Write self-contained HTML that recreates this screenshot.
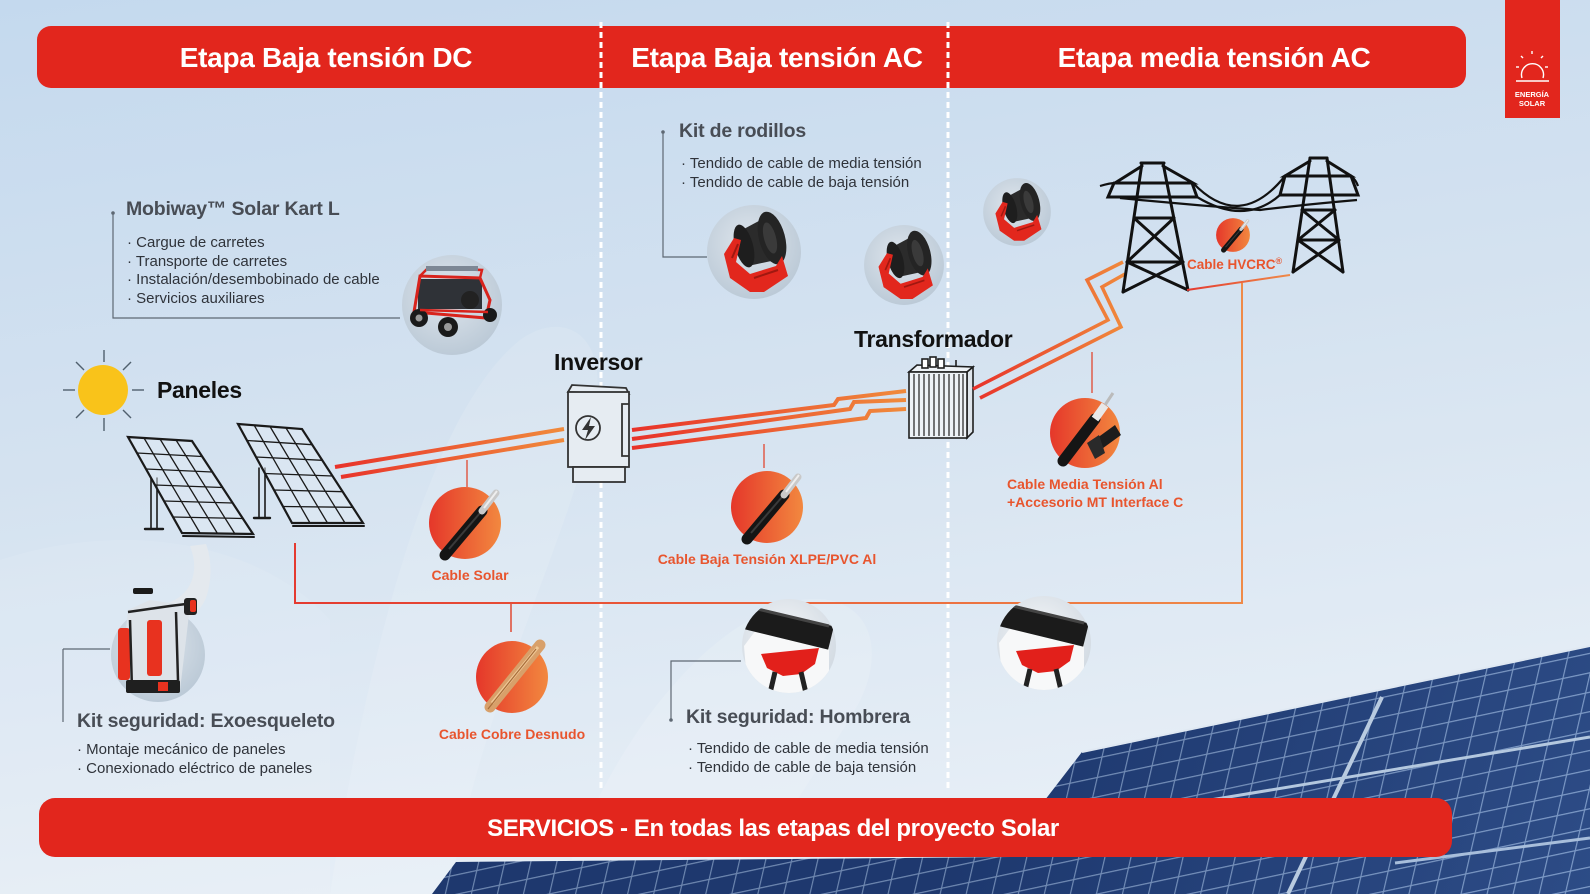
<!DOCTYPE html>
<html><head><meta charset="utf-8">
<style>
html,body{margin:0;padding:0;width:1590px;height:894px;overflow:hidden;background:#d5e3f1;}
svg{display:block;}
text{font-family:"Liberation Sans",sans-serif;}
.hd{font-weight:bold;font-size:28px;fill:#fff;text-anchor:middle;letter-spacing:-0.3px;}
.tt{font-weight:bold;font-size:19.5px;fill:#484d55;letter-spacing:-0.2px;}
.bl{font-size:15px;fill:#2f333a;}
.big{font-weight:bold;font-size:23px;fill:#111;letter-spacing:-0.3px;}
.lb{font-weight:bold;font-size:14px;fill:#e8552e;}
</style></head><body>
<svg width="1590" height="894" viewBox="0 0 1590 894" xmlns="http://www.w3.org/2000/svg">
<defs>
 <linearGradient id="bg" x1="0" y1="0" x2="0.25" y2="1">
  <stop offset="0" stop-color="#c4d9ee"/>
  <stop offset="0.5" stop-color="#d4e2f0"/>
  <stop offset="1" stop-color="#e6eef6"/>
 </linearGradient>
 <linearGradient id="gA" gradientUnits="userSpaceOnUse" x1="335" y1="0" x2="563" y2="0">
  <stop offset="0" stop-color="#e8322a"/><stop offset="1" stop-color="#f08a3c"/></linearGradient>
 <linearGradient id="gB" gradientUnits="userSpaceOnUse" x1="632" y1="0" x2="905" y2="0">
  <stop offset="0" stop-color="#e8322a"/><stop offset="1" stop-color="#f08a3c"/></linearGradient>
 <linearGradient id="gC" gradientUnits="userSpaceOnUse" x1="973" y1="0" x2="1125" y2="0">
  <stop offset="0" stop-color="#e8322a"/><stop offset="1" stop-color="#f08a3c"/></linearGradient>
 <linearGradient id="gD" gradientUnits="userSpaceOnUse" x1="295" y1="0" x2="1242" y2="0">
  <stop offset="0" stop-color="#e43a30"/><stop offset="1" stop-color="#ef8a48"/></linearGradient>
 <linearGradient id="gE" gradientUnits="userSpaceOnUse" x1="1187" y1="0" x2="1290" y2="0">
  <stop offset="0" stop-color="#e43a30"/><stop offset="1" stop-color="#ef8a48"/></linearGradient>
 <linearGradient id="orb" x1="0" y1="0" x2="1" y2="0">
  <stop offset="0" stop-color="#e5372a"/><stop offset="1" stop-color="#f2883f"/></linearGradient>
 <linearGradient id="pshade" gradientUnits="userSpaceOnUse" x1="1000" y1="700" x2="1590" y2="894">
  <stop offset="0" stop-color="#0d2350" stop-opacity="0.25"/><stop offset="1" stop-color="#4a72b0" stop-opacity="0.25"/></linearGradient>
 <radialGradient id="gray" cx="0.45" cy="0.4" r="0.6">
  <stop offset="0" stop-color="#dfe6ed"/><stop offset="1" stop-color="#bccad7"/></radialGradient>
 <radialGradient id="wgray" cx="0.45" cy="0.4" r="0.6">
  <stop offset="0" stop-color="#f4f6f8"/><stop offset="1" stop-color="#d3dbe3"/></radialGradient>
 <pattern id="cells" width="28" height="19" patternUnits="userSpaceOnUse" patternTransform="rotate(-12) skewX(-25)">
  <rect width="28" height="19" fill="#233f78"/>
  <path d="M0 0.6H28M0.6 0V19" stroke="#8ea8cf" stroke-width="1.4"/>
 </pattern>
 <clipPath id="c47"><circle cx="0" cy="0" r="47"/></clipPath>

 <g id="orbCable">
  <circle r="36" fill="url(#orb)"/>
  <line x1="-20" y1="32" x2="17" y2="-12" stroke="#151515" stroke-width="11" stroke-linecap="round"/>
  <line x1="-16" y1="26" x2="15" y2="-10" stroke="#3a3a3a" stroke-width="2"/>
  <line x1="17" y1="-12" x2="31" y2="-30" stroke="#c9c9c9" stroke-width="7" stroke-linecap="round"/>
  <line x1="19" y1="-15" x2="32" y2="-32" stroke="#eee" stroke-width="2"/>
 </g>
 <g id="roller">
  <circle r="47" fill="url(#gray)"/>
  <g clip-path="url(#c47)">
   <path d="M-12,-22 L14,-36 L22,8 L-6,14 Z" fill="#2b2b2b"/>
   <ellipse cx="-10" cy="-6" rx="9" ry="22" transform="rotate(-15 -10 -6)" fill="#1e1e1e"/>
   <ellipse cx="18" cy="-14" rx="13" ry="27" transform="rotate(-15 18 -14)" fill="#242424"/>
   <ellipse cx="16" cy="-14" rx="6" ry="16" transform="rotate(-15 16 -14)" fill="#3a3a3a"/>
   <path d="M-30,2 L-20,-14 L-13,-12 L-18,10 L-4,22 L22,14 L28,4 L34,24 L10,40 L-4,40 L-24,26 Z" fill="#e2271d"/>
   <path d="M-22,6 L-16,-8 M0,26 L24,18" stroke="#a01810" stroke-width="2"/>
  </g>
 </g>
 <g id="homb">
  <circle r="47" fill="url(#wgray)"/>
  <g clip-path="url(#c47)">
   <path d="M-30,-20 C-10,-30 20,-30 40,-10 L40,60 L-40,60 L-45,0 Z" fill="#f7f8f9"/>
   <line x1="-48" y1="-30" x2="42" y2="-8" stroke="#1b1b1b" stroke-width="24"/>
   <line x1="-44" y1="-40" x2="40" y2="-20" stroke="#444" stroke-width="3"/>
   <path d="M-28,8 L30,2 L26,18 L12,28 L-6,30 L-22,22 Z" fill="#e2201b"/>
   <line x1="-14" y1="26" x2="-22" y2="60" stroke="#222" stroke-width="5"/>
   <line x1="12" y1="26" x2="20" y2="60" stroke="#222" stroke-width="5"/>
  </g>
 </g>
</defs>

<!-- background -->
<rect width="1590" height="894" fill="url(#bg)"/>
<path d="M330,894 C360,700 420,420 520,340 C560,310 610,330 595,410 C575,530 480,700 450,894 Z" fill="#ffffff" opacity="0.12"/>
<path d="M560,894 C600,760 700,620 800,600 C870,590 890,650 855,710 C820,770 770,830 750,894 Z" fill="#ffffff" opacity="0.14"/>
<path d="M0,560 C120,520 260,540 330,620 L330,894 L0,894 Z" fill="#ffffff" opacity="0.08"/>

<!-- solar panel photo bottom right -->
<polygon points="1082,752 1590,646 1590,894 432,894 456,862 1010,857 1045,800" fill="url(#cells)"/>
<polygon points="1082,752 1590,646 1590,894 432,894 456,862 1010,857 1045,800" fill="url(#pshade)"/>
<path d="M1382,697 L1288,894" stroke="#b9cbe0" stroke-width="4"/>
<path d="M1150,810 L1590,737" stroke="#b4c8df" stroke-width="3"/>
<path d="M1395,863 L1590,838" stroke="#a8bedb" stroke-width="3"/>
<path d="M1082,752 L1590,646" stroke="#dfe8f2" stroke-width="2"/>

<!-- header -->
<rect x="37" y="26" width="1429" height="62" rx="14" fill="#e2261d"/>
<text class="hd" x="326" y="67">Etapa Baja tensión DC</text>
<text class="hd" x="777" y="67">Etapa Baja tensión AC</text>
<text class="hd" x="1214" y="67">Etapa media tensión AC</text>

<!-- logo -->
<rect x="1505" y="0" width="55" height="118" fill="#e2261d"/>
<g stroke="#fff" stroke-width="1.4" fill="none">
 <path d="M1522,78 A11,11 0 1 1 1543,78"/>
 <line x1="1516" y1="81" x2="1549" y2="81"/>
 <line x1="1532" y1="51" x2="1532" y2="54"/>
 <line x1="1521" y1="56" x2="1523" y2="58"/>
 <line x1="1543" y1="56" x2="1541" y2="58"/>
 <line x1="1516" y1="67" x2="1519" y2="67"/>
 <line x1="1545" y1="67" x2="1548" y2="67"/>
</g>
<text x="1532" y="97" font-size="7.5" font-weight="bold" fill="#fff" text-anchor="middle">ENERGÍA</text>
<text x="1532" y="106" font-size="7.5" font-weight="bold" fill="#fff" text-anchor="middle">SOLAR</text>

<!-- bottom bar -->
<rect x="39" y="798" width="1413" height="59" rx="16" fill="#e2261d"/>
<text x="773" y="836" font-size="24" font-weight="bold" fill="#fff" text-anchor="middle" letter-spacing="-0.4">SERVICIOS - En todas las etapas del proyecto Solar</text>

<!-- dashed dividers -->
<line x1="601" y1="22" x2="601" y2="792" stroke="#fff" stroke-width="3" stroke-dasharray="6 4"/>
<line x1="948" y1="22" x2="948" y2="792" stroke="#fff" stroke-width="3" stroke-dasharray="6 4"/>

<!-- Mobiway block -->
<path d="M113,213 V318 H400" fill="none" stroke="#5e6873" stroke-width="1.2"/>
<circle cx="113" cy="213" r="1.8" fill="#5e6873"/>
<text class="tt" x="126" y="215">Mobiway™  Solar Kart L</text>
<text class="bl" x="127" y="247">· Cargue de carretes</text>
<text class="bl" x="127" y="266">· Transporte de carretes</text>
<text class="bl" x="127" y="284">· Instalación/desembobinado de cable</text>
<text class="bl" x="127" y="303">· Servicios auxiliares</text>
<!-- kart -->
<circle cx="452" cy="305" r="50" fill="url(#gray)"/>
<g>
 <rect x="418" y="279" width="64" height="30" fill="#2f3237"/>
 <path d="M414,312 L420,276 L480,278 L490,300 L486,318 Z" fill="none" stroke="#d8231c" stroke-width="3"/>
 <path d="M420,276 L428,268 L482,270 L480,278" fill="none" stroke="#d8231c" stroke-width="2.5"/>
 <rect x="426" y="266" width="52" height="5" fill="#7d8794"/>
 <circle cx="470" cy="300" r="9" fill="#222"/>
 <circle cx="419" cy="318" r="9" fill="#1a1a1a"/><circle cx="419" cy="318" r="3.5" fill="#999"/>
 <circle cx="448" cy="327" r="10" fill="#1a1a1a"/><circle cx="448" cy="327" r="4" fill="#999"/>
 <circle cx="490" cy="315" r="7" fill="#1a1a1a"/>
 <line x1="420" y1="310" x2="488" y2="312" stroke="#d8231c" stroke-width="2.5"/>
</g>

<!-- Kit de rodillos -->
<path d="M663,132 V257 H707" fill="none" stroke="#5e6873" stroke-width="1.2"/>
<circle cx="663" cy="132" r="1.8" fill="#5e6873"/>
<text class="tt" x="679" y="137">Kit de rodillos</text>
<text class="bl" x="681" y="168">· Tendido de cable de media tensión</text>
<text class="bl" x="681" y="187">· Tendido de cable de baja tensión</text>
<use href="#roller" transform="translate(754,252)"/>
<use href="#roller" transform="translate(904,265) scale(0.85)"/>
<use href="#roller" transform="translate(1017,212) scale(0.72)"/>

<!-- sun -->
<circle cx="103" cy="390" r="25" fill="#f9c31a"/>
<g stroke="#50606e" stroke-width="1.4">
 <line x1="104" y1="350" x2="104" y2="362"/>
 <line x1="104" y1="418" x2="104" y2="431"/>
 <line x1="63" y1="390" x2="75" y2="390"/>
 <line x1="132" y1="390" x2="144" y2="390"/>
 <line x1="76" y1="362" x2="84" y2="370"/>
 <line x1="131" y1="362" x2="123" y2="370"/>
 <line x1="76" y1="418" x2="84" y2="410"/>
 <line x1="131" y1="418" x2="123" y2="410"/>
</g>
<text class="big" x="157" y="398">Paneles</text>

<!-- solar panels -->
<g stroke="#1a1a1a" fill="none" stroke-linecap="round">
 <line x1="151" y1="478" x2="151" y2="528" stroke-width="1.6"/>
 <line x1="157" y1="478" x2="157" y2="528" stroke-width="1.6"/>
 <line x1="145" y1="529" x2="163" y2="529" stroke-width="2.4"/>
 <polygon points="128,437 192,441 253,534 182,533" stroke-width="2.2" fill="#dfe9f3" fill-opacity="0.5"/>
 <line x1="183" y1="536" x2="254" y2="537" stroke-width="2"/>
 <g stroke-width="1.3">
  <line x1="144" y1="438" x2="200" y2="533"/><line x1="160" y1="439" x2="217.5" y2="533.5"/><line x1="176" y1="440" x2="235" y2="534"/>
  <line x1="137" y1="453" x2="202" y2="456.5"/><line x1="146" y1="469" x2="212" y2="472"/><line x1="155" y1="485" x2="222.5" y2="487.5"/>
  <line x1="164" y1="501" x2="232.7" y2="503"/><line x1="173" y1="517" x2="242.8" y2="518.5"/>
 </g>
 <line x1="259" y1="468" x2="259" y2="517" stroke-width="1.6"/>
 <line x1="265" y1="468" x2="265" y2="517" stroke-width="1.6"/>
 <line x1="254" y1="518" x2="270" y2="518" stroke-width="2.4"/>
 <polygon points="238,424 302,429 363,523 292,523" stroke-width="2.2" fill="#dfe9f3" fill-opacity="0.5"/>
 <line x1="293" y1="526" x2="364" y2="526" stroke-width="2"/>
 <g stroke-width="1.3">
  <line x1="254" y1="425" x2="310" y2="523"/><line x1="270" y1="426.5" x2="327.5" y2="523"/><line x1="286" y1="428" x2="345" y2="523"/>
  <line x1="247" y1="440.5" x2="312" y2="444.7"/><line x1="256" y1="457" x2="322.3" y2="460.3"/><line x1="265" y1="473.5" x2="332.5" y2="476"/>
  <line x1="274" y1="490" x2="342.7" y2="491.7"/><line x1="283" y1="506.5" x2="352.8" y2="507.3"/>
 </g>
</g>

<!-- cables panels -> inverter -->
<line x1="335" y1="467" x2="564" y2="429" stroke="url(#gA)" stroke-width="4"/>
<line x1="341" y1="477" x2="564" y2="440" stroke="url(#gA)" stroke-width="4"/>

<!-- inverter -->
<text class="big" x="554" y="370">Inversor</text>
<g stroke="#333" stroke-width="1.8" fill="#e6ecf2">
 <path d="M568,392 L572,385 L626,388 L629,394 Z"/>
 <rect x="568" y="392" width="61" height="75"/>
 <rect x="573" y="467" width="52" height="15"/>
 <path d="M629,404 H622 V456 H629" fill="none"/>
 <circle cx="588" cy="428" r="12" fill="none"/>
</g>
<path d="M591,417 L582,430 L588,430 L585,440 L595,426 L589,426 Z" fill="#333"/>

<!-- cables inverter -> transformer -->
<g fill="none" stroke="url(#gB)" stroke-width="4" stroke-linejoin="miter">
 <path d="M632,430 L834,405 L838,399 L906,391"/>
 <path d="M632,439 L850,409 L854,402 L906,400"/>
 <path d="M632,448 L866,418 L870,411 L906,409"/>
</g>

<!-- transformer -->
<text class="big" x="854" y="347" font-size="24">Transformador</text>
<g stroke="#1f1f1f" stroke-width="1.6">
 <path d="M909,372 L917,365 L973,367 L967,372 Z" fill="#eef2f6"/>
 <path d="M967,372 L973,367 L973,432 L967,438 Z" fill="#dfe5eb"/>
 <rect x="909" y="372" width="58" height="66" fill="#eef2f6"/>
 <path d="M914,374V436M919,374V436M924,374V436M929,374V436M934,374V436M939,374V436M944,374V436M949,374V436M954,374V436M959,374V436M963,374V436" stroke-width="1.2"/>
 <rect x="922" y="359" width="6" height="9" fill="#fff"/>
 <rect x="930" y="357" width="6" height="10" fill="#fff"/>
 <rect x="938" y="359" width="6" height="9" fill="#fff"/>
 <line x1="956" y1="360" x2="956" y2="367"/>
</g>

<!-- transformer -> towers -->
<g fill="none" stroke="url(#gC)" stroke-width="3.5">
 <path d="M973,389 L1108,320 L1087,280 L1123,262"/>
 <path d="M980,398 L1121,327 L1102,287 L1125,274"/>
</g>

<!-- towers -->
<g stroke="#111" stroke-width="3" fill="none" stroke-linecap="round">
 <path d="M1141,163 H1164"/>
 <path d="M1142,163 L1123,292 M1163,163 L1188,290"/>
 <path d="M1142,166 L1115,183 H1193 L1163,166"/>
 <path d="M1114,183 L1108,197 H1197 L1192,183"/>
 <path d="M1134,218 H1174 M1127,262 H1183"/>
 <path d="M1134,218 L1183,262 M1174,218 L1127,262 M1127,262 L1188,290 M1183,262 L1123,292"/>
 <path d="M1310,158 H1327"/>
 <path d="M1310,158 L1293,272 M1327,158 L1343,272"/>
 <path d="M1310,161 L1285,176 H1351 L1327,161"/>
 <path d="M1285,176 L1280,195 H1358 L1351,176"/>
 <path d="M1302,210 H1335 M1298,240 H1339"/>
 <path d="M1302,210 L1339,240 M1335,210 L1298,240 M1298,240 L1343,272 M1339,240 L1293,272"/>
</g>
<g stroke="#111" stroke-width="2.2" fill="none">
 <path d="M1193,183 Q1240,232 1285,176"/>
 <path d="M1197,197 Q1245,226 1280,195"/>
 <path d="M1120,198 Q1190,205 1260,210 Q1300,205 1357,200"/>
 <path d="M1100,186 Q1110,183 1115,183"/>
 <path d="M1351,176 Q1356,180 1358,186"/>
</g>
<use href="#orbCable" transform="translate(1233,235) scale(0.47)"/>
<text x="1187" y="269" font-size="13.5" font-weight="bold" fill="#e8552e">Cable  HVCRC<tspan font-size="9" dy="-5">®</tspan></text>

<!-- connectors -->
<line x1="1187" y1="290" x2="1290" y2="275" stroke="url(#gE)" stroke-width="2"/>
<line x1="1242" y1="283" x2="1242" y2="604" stroke="#ef8a48" stroke-width="2"/>
<line x1="295" y1="603" x2="1243" y2="603" stroke="url(#gD)" stroke-width="2"/>
<line x1="295" y1="543" x2="295" y2="604" stroke="#e43a30" stroke-width="2"/>
<line x1="511" y1="603" x2="511" y2="632" stroke="#e0533f" stroke-width="1.6"/>
<line x1="467" y1="460" x2="467" y2="487" stroke="#e0533f" stroke-width="1.4"/>
<line x1="764" y1="444" x2="764" y2="468" stroke="#e0533f" stroke-width="1.4"/>
<line x1="1092" y1="352" x2="1092" y2="393" stroke="#e0533f" stroke-width="1.4"/>

<!-- cable orbs -->
<use href="#orbCable" transform="translate(465,523)"/>
<text class="lb" x="470" y="580" text-anchor="middle">Cable Solar</text>
<use href="#orbCable" transform="translate(767,507)"/>
<text class="lb" x="767" y="564" text-anchor="middle">Cable Baja Tensión XLPE/PVC Al</text>
<g transform="translate(1085,433)">
 <circle r="35" fill="url(#orb)"/>
 <line x1="-22" y1="28" x2="10" y2="-14" stroke="#151515" stroke-width="11" stroke-linecap="round"/>
 <line x1="10" y1="-14" x2="20" y2="-28" stroke="#e8e8e8" stroke-width="8"/>
 <line x1="20" y1="-28" x2="28" y2="-40" stroke="#bbb" stroke-width="3"/>
 <path d="M8,8 L30,-8 L36,2 L14,18 Z" fill="#1c1c1c"/>
 <path d="M2,10 L14,2 L20,20 L10,26 Z" fill="#2a2a2a"/>
</g>
<text class="lb" x="1007" y="489">Cable Media Tensión Al</text>
<text class="lb" x="1007" y="507">+Accesorio MT Interface C</text>
<g transform="translate(512,677)">
 <circle r="36" fill="url(#orb)"/>
 <line x1="-22" y1="30" x2="28" y2="-32" stroke="#d8a06a" stroke-width="11" stroke-linecap="round"/>
 <line x1="-20" y1="26" x2="26" y2="-30" stroke="#f0c896" stroke-width="3"/>
 <line x1="-24" y1="32" x2="24" y2="-28" stroke="#a86d3a" stroke-width="1.2"/>
</g>
<text class="lb" x="512" y="739" text-anchor="middle">Cable Cobre Desnudo</text>

<!-- exoskeleton -->
<path d="M63,649 V722 M63,649 H110" fill="none" stroke="#5e6873" stroke-width="1.2"/>
<circle cx="158" cy="655" r="47" fill="url(#gray)"/>
<path d="M160,606 C180,600 192,590 194,570 C195,560 192,552 190,546 L206,544 C212,560 212,580 206,598 C200,612 188,620 176,624 Z" fill="#e4e9ee"/>
<path d="M128,610 L150,600 L190,606 L186,640 L180,690 L132,693 L124,650 Z" fill="#dde3e9"/>
<rect x="184" y="598" width="13" height="17" rx="3" fill="#222"/>
<rect x="190" y="600" width="6" height="12" rx="2" fill="#e8321f"/>
<rect x="118" y="628" width="12" height="52" rx="3" fill="#e8321f"/>
<rect x="147" y="620" width="15" height="56" rx="3" fill="#e8321f"/>
<path d="M128,612 L170,606 L186,604 M130,620 L132,690 M176,612 L178,680" stroke="#222" stroke-width="2.5" fill="none"/>
<rect x="126" y="680" width="54" height="13" rx="2" fill="#1f1f1f"/>
<rect x="158" y="682" width="10" height="9" fill="#e8321f"/>
<rect x="133" y="588" width="20" height="6" rx="2" fill="#1b1b1b"/>
<text class="tt" x="77" y="727">Kit seguridad: Exoesqueleto</text>
<text class="bl" x="77" y="754">· Montaje mecánico de paneles</text>
<text class="bl" x="77" y="773">· Conexionado eléctrico de paneles</text>

<!-- hombrera -->
<use href="#homb" transform="translate(789,646)"/>
<use href="#homb" transform="translate(1044,643)"/>
<path d="M741,661 H671 V720" fill="none" stroke="#5e6873" stroke-width="1.2"/>
<circle cx="671" cy="720" r="1.8" fill="#5e6873"/>
<text class="tt" x="686" y="723">Kit seguridad: Hombrera</text>
<text class="bl" x="688" y="753">· Tendido de cable de media tensión</text>
<text class="bl" x="688" y="772">· Tendido de cable de baja tensión</text>
</svg>
</body></html>
